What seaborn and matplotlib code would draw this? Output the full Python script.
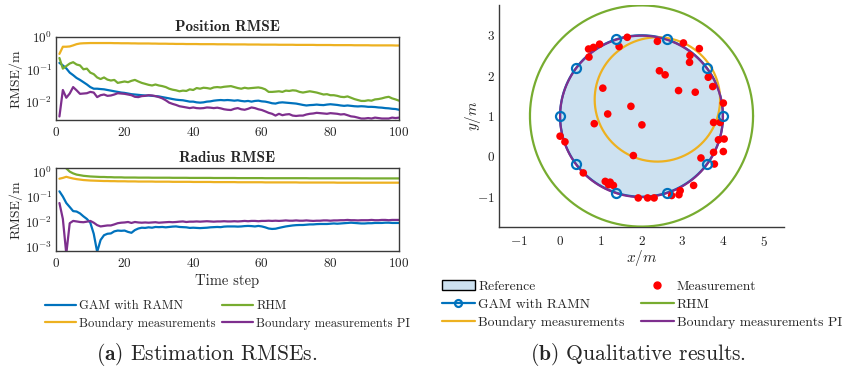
import numpy as np
import pandas as pd
import matplotlib
matplotlib.use("Agg")
import matplotlib.pyplot as plt
from matplotlib.lines import Line2D
from matplotlib.patches import Patch
import seaborn as sns

# ---------------------------------------------------------------- data
time_step = list(range(1, 101))

pos_gam = [0.158, 0.132, 0.107, 0.079, 0.066, 0.054, 0.047, 0.040, 0.034, 0.0282,
           0.0251, 0.0251, 0.0245, 0.0240, 0.0229, 0.0219, 0.0209, 0.0200, 0.0191, 0.0186,
           0.0178, 0.0170, 0.0166, 0.0162, 0.0158, 0.0155, 0.0155, 0.0151, 0.0148, 0.0145,
           0.0138, 0.0132, 0.0126, 0.0120, 0.0115, 0.0112, 0.0110, 0.0105, 0.0100, 0.0100,
           0.0095, 0.0093, 0.0095, 0.0100, 0.0102, 0.0107, 0.0110, 0.0112, 0.0110, 0.0112,
           0.0110, 0.0107, 0.0110, 0.0105, 0.0102, 0.0105, 0.0100, 0.0105, 0.0107, 0.0102,
           0.0100, 0.0095, 0.0089, 0.0087, 0.0093, 0.0095, 0.0093, 0.0091, 0.0089, 0.0087,
           0.0083, 0.0079, 0.0076, 0.0078, 0.0079, 0.0081, 0.0079, 0.0078, 0.0081, 0.0083,
           0.0081, 0.0079, 0.0076, 0.0074, 0.0076, 0.0074, 0.0072, 0.0071, 0.0072, 0.0071,
           0.0069, 0.0069, 0.0068, 0.0066, 0.0065, 0.0063, 0.0062, 0.0060, 0.0059, 0.0056]

pos_rhm = [0.224, 0.105, 0.126, 0.151, 0.166, 0.141, 0.132, 0.100, 0.105, 0.079,
           0.071, 0.056, 0.050, 0.056, 0.048, 0.045, 0.047, 0.038, 0.040, 0.042,
           0.040, 0.044, 0.047, 0.042, 0.038, 0.0355, 0.0331, 0.0316, 0.0339, 0.0316,
           0.0302, 0.0282, 0.0251, 0.0234, 0.0224, 0.0209, 0.0219, 0.0214, 0.0240, 0.0229,
           0.0263, 0.0251, 0.0269, 0.0263, 0.0251, 0.0275, 0.0282, 0.0275, 0.0288, 0.0295,
           0.0302, 0.0282, 0.0263, 0.0251, 0.0269, 0.0257, 0.0263, 0.0269, 0.0275, 0.0263,
           0.0240, 0.0200, 0.0200, 0.0204, 0.0209, 0.0200, 0.0219, 0.0214, 0.0224, 0.0219,
           0.0200, 0.0191, 0.0200, 0.0209, 0.0200, 0.0191, 0.0178, 0.0166, 0.0170, 0.0158,
           0.0158, 0.0151, 0.0141, 0.0138, 0.0145, 0.0132, 0.0120, 0.0112, 0.0105, 0.0105,
           0.0110, 0.0107, 0.0117, 0.0120, 0.0126, 0.0135, 0.0141, 0.0126, 0.0117, 0.0107]

pos_boundary = [0.30, 0.50, 0.50, 0.51, 0.55, 0.60, 0.63, 0.64, 0.645, 0.65,
                0.65, 0.65, 0.65, 0.65, 0.65, 0.65, 0.645, 0.645, 0.64, 0.64,
                0.64, 0.635, 0.635, 0.63, 0.63, 0.63, 0.63, 0.625, 0.625, 0.62,
                0.62, 0.62, 0.615, 0.615, 0.61, 0.61, 0.61, 0.605, 0.605, 0.605,
                0.605, 0.60, 0.60, 0.60, 0.60, 0.60, 0.595, 0.595, 0.595, 0.595,
                0.59, 0.59, 0.59, 0.59, 0.59, 0.585, 0.585, 0.585, 0.585, 0.58,
                0.58, 0.58, 0.58, 0.58, 0.575, 0.575, 0.575, 0.575, 0.575, 0.57,
                0.57, 0.57, 0.57, 0.57, 0.57, 0.565, 0.565, 0.565, 0.565, 0.565,
                0.56, 0.56, 0.56, 0.56, 0.56, 0.56, 0.555, 0.555, 0.555, 0.555,
                0.555, 0.55, 0.55, 0.55, 0.55, 0.55, 0.55, 0.55, 0.545, 0.545]

pos_boundary_pi = [0.00347, 0.0229, 0.0132, 0.0178, 0.0282, 0.0224, 0.0174, 0.0178, 0.0182, 0.0200,
                   0.0191, 0.0138, 0.0158, 0.0166, 0.0151, 0.0155, 0.0166, 0.0182, 0.0178, 0.0174,
                   0.0166, 0.0158, 0.0141, 0.0138, 0.0148, 0.0151, 0.0158, 0.0155, 0.0148, 0.0138,
                   0.0126, 0.0110, 0.0093, 0.0085, 0.0079, 0.0072, 0.0069, 0.0066, 0.0063, 0.0066,
                   0.0063, 0.0062, 0.0063, 0.0066, 0.0065, 0.0063, 0.0065, 0.0062, 0.0058, 0.0056,
                   0.0055, 0.0060, 0.0063, 0.0058, 0.0056, 0.0060, 0.0066, 0.0063, 0.0058, 0.0055,
                   0.0050, 0.0045, 0.0042, 0.0037, 0.0042, 0.0038, 0.0040, 0.0041, 0.0037, 0.0036,
                   0.0037, 0.0037, 0.0040, 0.0042, 0.0043, 0.0045, 0.0044, 0.0043, 0.0042, 0.0044,
                   0.0043, 0.0042, 0.0040, 0.0041, 0.0038, 0.0035, 0.0034, 0.0032, 0.0030, 0.0030,
                   0.0031, 0.0030, 0.0032, 0.0031, 0.0030, 0.0030, 0.0030, 0.0032, 0.0031, 0.0032]

rad_gam = [0.162, 0.100, 0.055, 0.038, 0.026, 0.025, 0.021, 0.016, 0.0126, 0.0089,
           0.0032, 0.00060, 0.0018, 0.0028, 0.0032, 0.0033, 0.0040, 0.0043, 0.0042, 0.0043,
           0.0038, 0.0035, 0.0045, 0.0052, 0.0056, 0.0055, 0.0058, 0.0056, 0.0060, 0.0059,
           0.0060, 0.0058, 0.0060, 0.0062, 0.0063, 0.0060, 0.0059, 0.0058, 0.0055, 0.0056,
           0.0055, 0.0054, 0.0055, 0.0056, 0.0058, 0.0059, 0.0060, 0.0059, 0.0062, 0.0063,
           0.0063, 0.0063, 0.0062, 0.0063, 0.0065, 0.0066, 0.0065, 0.0063, 0.0066, 0.0063,
           0.0058, 0.0052, 0.0050, 0.0051, 0.0055, 0.0059, 0.0063, 0.0066, 0.0069, 0.0071,
           0.0072, 0.0072, 0.0074, 0.0076, 0.0076, 0.0078, 0.0079, 0.0079, 0.0079, 0.0081,
           0.0083, 0.0081, 0.0083, 0.0085, 0.0087, 0.0089, 0.0087, 0.0085, 0.0083, 0.0083,
           0.0085, 0.0085, 0.0087, 0.0087, 0.0087, 0.0089, 0.0089, 0.0087, 0.0087, 0.0087]

rad_rhm = [3.2, 1.9, 1.35, 1.0, 0.85, 0.76, 0.72, 0.68, 0.66, 0.64,
           0.63, 0.62, 0.61, 0.61, 0.60, 0.60, 0.59, 0.59, 0.59, 0.58,
           0.58, 0.58, 0.58, 0.575, 0.575, 0.575, 0.575, 0.57, 0.57, 0.57,
           0.57, 0.57, 0.57, 0.565, 0.565, 0.565, 0.565, 0.565, 0.56, 0.56,
           0.56, 0.56, 0.56, 0.56, 0.56, 0.555, 0.555, 0.555, 0.555, 0.555,
           0.555, 0.555, 0.55, 0.55, 0.55, 0.55, 0.55, 0.55, 0.55, 0.55,
           0.545, 0.545, 0.545, 0.545, 0.545, 0.545, 0.545, 0.545, 0.545, 0.545,
           0.545, 0.545, 0.545, 0.54, 0.54, 0.54, 0.54, 0.54, 0.54, 0.54,
           0.54, 0.54, 0.54, 0.54, 0.54, 0.54, 0.54, 0.54, 0.535, 0.535,
           0.535, 0.535, 0.535, 0.535, 0.535, 0.535, 0.535, 0.535, 0.535, 0.535]

rad_boundary = [0.52, 0.56, 0.62, 0.57, 0.53, 0.50, 0.48, 0.46, 0.45, 0.44,
                0.435, 0.43, 0.425, 0.42, 0.42, 0.415, 0.415, 0.41, 0.41, 0.41,
                0.405, 0.405, 0.405, 0.40, 0.40, 0.40, 0.40, 0.40, 0.395, 0.395,
                0.395, 0.395, 0.395, 0.39, 0.39, 0.39, 0.39, 0.39, 0.39, 0.385,
                0.385, 0.385, 0.385, 0.385, 0.385, 0.38, 0.38, 0.38, 0.38, 0.38,
                0.38, 0.38, 0.375, 0.375, 0.375, 0.375, 0.375, 0.375, 0.375, 0.375,
                0.37, 0.37, 0.37, 0.37, 0.37, 0.37, 0.37, 0.37, 0.37, 0.37,
                0.365, 0.365, 0.365, 0.365, 0.365, 0.365, 0.365, 0.365, 0.365, 0.365,
                0.365, 0.36, 0.36, 0.36, 0.36, 0.36, 0.36, 0.36, 0.36, 0.36,
                0.36, 0.36, 0.36, 0.36, 0.36, 0.36, 0.36, 0.36, 0.36, 0.36]

rad_boundary_pi = [0.055, 0.0126, 0.00050, 0.0085, 0.0105, 0.0100, 0.0095, 0.0093, 0.0098, 0.0105,
                   0.0089, 0.0071, 0.0063, 0.0066, 0.0069, 0.0069, 0.0076, 0.0085, 0.0089, 0.0091,
                   0.0095, 0.0087, 0.0095, 0.0091, 0.0089, 0.0091, 0.0089, 0.0091, 0.0093, 0.0089,
                   0.0091, 0.0093, 0.0095, 0.0093, 0.0095, 0.0098, 0.0100, 0.0095, 0.0098, 0.0098,
                   0.0100, 0.0098, 0.0100, 0.0102, 0.0100, 0.0098, 0.0100, 0.0100, 0.0102, 0.0100,
                   0.0100, 0.0102, 0.0100, 0.0102, 0.0105, 0.0102, 0.0105, 0.0105, 0.0102, 0.0105,
                   0.0105, 0.0107, 0.0105, 0.0107, 0.0105, 0.0107, 0.0110, 0.0107, 0.0107, 0.0110,
                   0.0107, 0.0107, 0.0110, 0.0107, 0.0105, 0.0107, 0.0107, 0.0110, 0.0110, 0.0107,
                   0.0110, 0.0110, 0.0112, 0.0112, 0.0115, 0.0112, 0.0112, 0.0110, 0.0112, 0.0112,
                   0.0112, 0.0115, 0.0112, 0.0112, 0.0115, 0.0115, 0.0112, 0.0115, 0.0115, 0.0115]

method_names = ["GAM with RAMN", "RHM", "Boundary measurements", "Boundary measurements PI"]
method_colors = ["#0072BD", "#77AC30", "#EDB120", "#7E2F8E"]

# circular estimates in the final frame: (centre x, centre y, radius)
reference_circle = (2.0, 1.0, 2.0)
gam_circle = (2.0, 1.0, 2.0)
rhm_circle = (2.0, 1.0, 2.74)
boundary_circle = (2.39, 1.41, 1.54)
boundary_pi_circle = (2.0, 0.99, 2.0)

# GAM control points on the estimated contour
gam_points_x = [4.00, 3.62, 2.62, 1.38, 0.38, 0.00, 0.38, 1.38, 2.62, 3.62]
gam_points_y = [1.00, 2.18, 2.90, 2.90, 2.18, 1.00, -0.18, -0.90, -0.90, -0.18]

# measurements received in the final frame
meas_x = [1.65, 0.97, 0.82, 0.70, 0.71, 1.45, 2.39, 3.03, 3.42, 3.19,
          3.18, 2.44, 2.58, 3.64, 3.75, 2.91, 3.32, 1.05, 1.74, 1.17,
          4.01, 0.84, 2.01, 3.77, 3.93, 3.89, 4.03, 0.00, 0.12, 1.80,
          3.46, 3.77, 4.01, 3.79, 0.57, 1.11, 1.23, 1.31, 1.19, 1.92,
          2.15, 2.31, 2.74, 2.92, 2.95, 3.28]
meas_y = [2.95, 2.78, 2.70, 2.66, 2.46, 2.72, 2.85, 2.81, 2.67, 2.50,
          2.33, 2.12, 2.02, 1.96, 1.73, 1.63, 1.59, 1.69, 1.24, 1.05,
          1.32, 0.81, 0.78, 0.84, 0.84, 0.41, 0.43, 0.50, 0.36, 0.02,
          -0.04, 0.10, 0.12, -0.19, -0.41, -0.62, -0.64, -0.72, -0.70, -1.03,
          -1.03, -1.03, -0.97, -0.95, -0.85, -0.72]

# ---------------------------------------------------------------- style
sns.set_theme(style="white")
plt.rcParams.update({
    "font.family": ["cmr10"],
    "mathtext.fontset": "cm",
    "axes.formatter.use_mathtext": True,
    "axes.unicode_minus": False,
    "axes.edgecolor": "#3a3a3a",
    "axes.linewidth": 1.0,
})

palette = dict(zip(method_names, method_colors))
LW = 1.6

fig = plt.figure(figsize=(8.49, 3.66), dpi=100)

# ---------------------------------------------------------------- RMSE panels
def long_frame(series):
    frames = []
    for name, vals in zip(method_names, series):
        frames.append(pd.DataFrame({"step": time_step, "rmse": vals, "method": name}))
    return pd.concat(frames, ignore_index=True)

pos_df = long_frame([pos_gam, pos_rhm, pos_boundary, pos_boundary_pi])
rad_df = long_frame([rad_gam, rad_rhm, rad_boundary, rad_boundary_pi])

ax_pos = fig.add_axes([56 / 849, 1 - 120 / 366, 343 / 849, 83 / 366])
ax_rad = fig.add_axes([56 / 849, 1 - 251 / 366, 343 / 849, 83 / 366])

for ax, df, title, ylim, yticks in [
    (ax_pos, pos_df, "Position RMSE", (2.7e-3, 1.0), [1e-2, 1e-1, 1e0]),
    (ax_rad, rad_df, "Radius RMSE", (6.5e-4, 1.4), [1e-3, 1e-2, 1e-1, 1e0]),
]:
    sns.lineplot(data=df, x="step", y="rmse", hue="method", hue_order=method_names,
                 palette=palette, linewidth=LW, legend=False, ax=ax)
    ax.set_yscale("log")
    ax.set_ylim(*ylim)
    ax.set_xlim(0, 100)
    ax.set_yticks(yticks)
    ax.minorticks_off()
    ax.set_xticks([0, 20, 40, 60, 80, 100])
    ax.tick_params(axis="both", labelsize=9.5, length=0, colors="#222222")
    ax.tick_params(axis="x", pad=4)
    ax.tick_params(axis="y", pad=2.5)
    ax.set_title(title, fontfamily="cmb10", fontsize=11, pad=4.5)
    ax.set_ylabel("RMSE/m", fontsize=10, labelpad=2)
    ax.set_xlabel("")
    for s in ax.spines.values():
        s.set_visible(True)

ax_rad.set_xlabel("Time step", fontsize=10.5, labelpad=3)

rmse_handles = [Line2D([], [], color=c, lw=LW) for c in method_colors]
order = [0, 2, 1, 3]
fig.legend([rmse_handles[i] for i in order], [method_names[i] for i in order],
           loc="upper left", bbox_to_anchor=(45 / 849, 1 - 300 / 366), ncol=2,
           frameon=False, fontsize=9.1, handlelength=2.45, handletextpad=0.25,
           columnspacing=0.5, labelspacing=0.38, borderpad=0, borderaxespad=0)

# ---------------------------------------------------------------- qualitative panel
ax_q = fig.add_axes([499 / 849, 1 - 227 / 366, 285 / 849, 222 / 366])
theta = np.linspace(0, 2 * np.pi, 400)


def circle_xy(c):
    cx, cy, r = c
    return cx + r * np.cos(theta), cy + r * np.sin(theta)


ref_fill = "#cde1f0"
rx, ry = circle_xy(reference_circle)
ax_q.fill(rx, ry, color=ref_fill, lw=0, zorder=1)

gx, gy = circle_xy(gam_circle)
ax_q.plot(gx, gy, color=method_colors[0], lw=LW, zorder=2)
for circ, col in [(rhm_circle, method_colors[1]), (boundary_circle, method_colors[2]),
                  (boundary_pi_circle, method_colors[3])]:
    cx_, cy_ = circle_xy(circ)
    ax_q.plot(cx_, cy_, color=col, lw=LW, zorder=3)

sns.scatterplot(x=meas_x, y=meas_y, color="#ff0000", s=30, edgecolor="none",
                ax=ax_q, zorder=4, legend=False)
ax_q.plot(gam_points_x, gam_points_y, ls="none", marker="o", ms=6.5, mfc="none",
          mec=method_colors[0], mew=1.6, zorder=5)

ax_q.set_xlim(-1.5, 5.5)
ax_q.set_ylim(-1.75, 3.75)
ax_q.set_xticks([-1, 0, 1, 2, 3, 4, 5])
ax_q.set_yticks([-1, 0, 1, 2, 3])
ax_q.tick_params(axis="both", labelsize=9.5, length=0, colors="#222222")
ax_q.tick_params(axis="x", pad=6)
ax_q.tick_params(axis="y", pad=3)
ax_q.set_xlabel(r"$x/m$", fontsize=11, labelpad=-1)
ax_q.set_ylabel(r"$y/m$", fontsize=11, labelpad=-4)
sns.despine(ax=ax_q)

q_handles = [
    Patch(facecolor=ref_fill, edgecolor="black", lw=1.0),
    Line2D([], [], color=method_colors[0], lw=LW, marker="o", ms=5, mfc="none",
           mec=method_colors[0], mew=1.6),
    Line2D([], [], color=method_colors[2], lw=LW),
    Line2D([], [], ls="none", marker="o", ms=5, color="#ff0000"),
    Line2D([], [], color=method_colors[1], lw=LW),
    Line2D([], [], color=method_colors[3], lw=LW),
]
q_labels = ["Reference", "GAM with RAMN", "Boundary measurements",
            "Measurement", "RHM", "Boundary measurements PI"]
fig.legend(q_handles, q_labels, loc="upper left",
           bbox_to_anchor=(442 / 849, 1 - 280 / 366), ncol=2, frameon=False,
           fontsize=9.8, handlelength=2.4, handletextpad=0.25, columnspacing=1.2,
           labelspacing=0.4, borderpad=0, borderaxespad=0)

# ---------------------------------------------------------------- captions
fig.text(207 / 849, 1 - 354 / 366, r"$\mathbf{(a)}$ Estimation RMSEs.",
         ha="center", va="center", fontsize=15.5)
fig.text(638 / 849, 1 - 354 / 366, r"$\mathbf{(b)}$ Qualitative results.",
         ha="center", va="center", fontsize=15.5)

fig.savefig("out.png", dpi=100)
